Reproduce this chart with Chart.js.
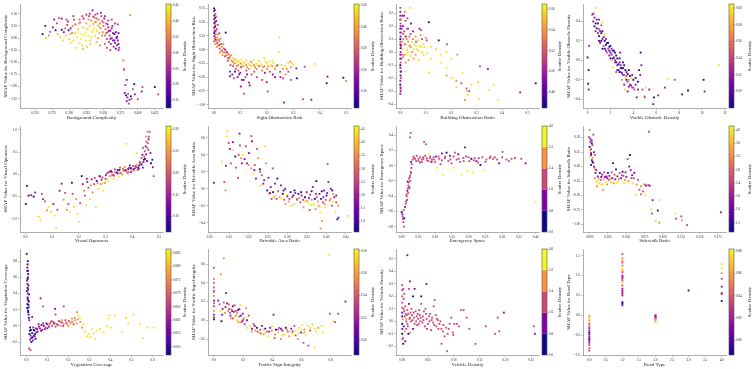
<!DOCTYPE html>
<html>
<head>
<meta charset="utf-8">
<script src="https://cdn.jsdelivr.net/npm/chart.js@4.4.1/dist/chart.umd.min.js"></script>
<style>
  html, body { margin: 0; padding: 0; background: #fff; }
  #grid { position: relative; width: 753px; height: 369px; overflow: hidden; }
  #grid canvas { position: absolute; }
</style>
</head>
<body>
<div id="grid"></div>
<script>
// Data: each point is [feature value, SHAP value, density level 0..1]
const complexityPts = [
  [0.261,0.08,0.05],[0.266,0.00,0.95],[0.270,0.05,0.7],[0.272,0.13,0.6],[0.276,0.22,0.3],[0.280,0.16,0.05],[0.283,0.08,0.8],
  [0.285,0.41,0.5],[0.289,0.40,0.3],[0.289,0.17,0.05],[0.292,0.12,0.3],[0.295,0.05,0.85],[0.297,0.27,0.45],[0.299,0.16,0.05],
  [0.302,0.20,0.3],[0.300,-0.02,0.9],[0.304,0.10,0.6],[0.306,-0.05,0.95],[0.308,0.10,0.9],[0.309,0.28,0.5],[0.311,0.02,1.0],
  [0.313,0.18,0.85],[0.315,-0.10,0.95],[0.316,0.32,0.6],[0.318,0.08,1.0],[0.319,-0.15,0.9],[0.320,0.22,0.9],[0.321,0.40,0.4],
  [0.323,0.12,1.0],[0.324,-0.05,0.95],[0.325,0.30,0.8],[0.327,0.18,0.95],[0.328,0.05,1.0],[0.329,0.45,0.5],[0.330,0.25,0.9],
  [0.331,-0.12,0.9],[0.332,0.36,0.7],[0.333,0.12,1.0],[0.334,0.57,0.3],[0.335,0.28,0.85],[0.336,0.20,0.95],[0.337,0.42,0.6],
  [0.338,0.05,0.9],[0.339,0.33,0.75],[0.340,0.15,0.9],[0.341,0.50,0.45],[0.342,0.26,0.8],[0.343,0.38,0.65],[0.344,0.10,0.8],
  [0.345,0.30,0.7],[0.346,0.20,0.75],[0.347,0.45,0.5],[0.348,0.35,0.6],[0.349,0.12,0.7],[0.350,0.25,0.6],[0.351,0.40,0.4],
  [0.352,0.05,0.6],[0.353,0.18,0.55],[0.354,0.30,0.45],[0.355,-0.02,0.5],[0.356,0.12,0.5],[0.357,0.22,0.4],[0.358,-0.08,0.45],
  [0.359,0.05,0.4],[0.360,0.15,0.3],[0.361,-0.12,0.4],[0.362,0.00,0.3],[0.363,0.25,0.35],[0.364,-0.05,0.25],[0.365,-0.18,0.35],
  [0.366,0.08,0.2],[0.367,-0.10,0.3],[0.368,-0.22,0.25],[0.369,0.00,0.15],[0.370,-0.15,0.2],[0.371,-0.05,0.3],[0.372,-0.25,0.35],
  [0.372,0.10,0.2],[0.362,0.38,0.5],[0.371,0.28,0.45],[0.389,0.47,0.7],[0.379,-0.46,0.7],[0.380,-0.63,0.65],[0.380,-0.66,0.6],
  [0.384,-0.86,0.3],[0.382,-0.97,0.35],[0.381,-1.13,0.3],[0.383,-1.18,0.05],[0.385,-1.22,0.35],[0.386,-1.15,0.5],[0.388,-1.27,0.3],
  [0.390,-1.20,0.05],[0.391,-1.25,0.5],[0.384,-1.30,0.3],[0.387,-1.35,0.5],[0.395,-0.95,0.05],[0.396,-1.16,0.3],[0.400,-1.26,0.5],
  [0.407,-1.01,0.5],[0.406,-1.10,0.3],[0.425,-1.01,0.05],[0.430,-1.16,0.5],[0.393,-1.05,0.55],
  [0.287,0.02,0.9],[0.291,-0.05,0.95],[0.294,0.20,0.6],[0.298,0.34,0.4],[0.301,0.08,0.9],[0.303,-0.10,0.95],[0.305,0.25,0.7],
  [0.307,0.38,0.45],[0.310,-0.20,0.95],[0.312,0.12,1.0],[0.314,0.30,0.75],[0.317,-0.02,1.0],[0.319,0.45,0.45],[0.322,0.05,1.0],
  [0.324,0.20,1.0],[0.326,-0.18,0.9],[0.328,0.38,0.7],[0.330,0.50,0.4],[0.332,0.02,1.0],[0.334,0.15,1.0],[0.336,0.32,0.85],
  [0.338,0.48,0.5],[0.340,0.40,0.6],[0.342,0.00,0.85],[0.344,0.22,0.8],[0.346,0.52,0.35],[0.348,0.05,0.7],[0.350,0.32,0.55],
  [0.352,0.45,0.35],[0.354,0.10,0.5],[0.356,0.28,0.4],[0.358,0.15,0.35],[0.360,-0.02,0.35],[0.362,0.20,0.3],[0.364,0.10,0.2],
  [0.366,-0.05,0.25],[0.368,0.12,0.15],[0.370,0.03,0.2],[0.372,-0.12,0.3],[0.373,-0.20,0.4],[0.367,0.30,0.4],[0.357,0.36,0.45],
  [0.320,-0.22,0.85],[0.315,0.38,0.6],[0.330,-0.05,0.95],[0.340,-0.08,0.85],[0.335,0.44,0.5],[0.325,0.48,0.4],[0.345,-0.15,0.7],
  [0.352,-0.12,0.6],[0.355,-0.20,0.5],[0.360,-0.25,0.45],[0.306,0.45,0.4],[0.296,0.38,0.5],[0.282,0.30,0.5],[0.278,0.38,0.3],
  [0.265,0.25,0.2]
];
const sightPts = [
  [0.000,0.75,0.05],[0.000,0.70,0.3],[0.001,0.62,0.05],[0.000,0.55,0.3],[0.001,0.48,0.05],[0.000,0.40,0.3],[0.002,0.35,0.5],
  [0.000,0.30,0.05],[0.001,0.25,0.3],[0.002,0.20,0.72],[0.000,0.15,0.5],[0.005,0.65,0.5],[0.005,0.45,0.72],[0.006,0.28,0.5],
  [0.005,0.10,0.72],[0.006,0.18,0.3],[0.010,0.60,0.72],[0.010,0.38,0.5],[0.011,0.22,0.72],[0.010,0.05,0.72],[0.012,0.12,0.5],
  [0.020,0.30,0.5],[0.020,0.15,0.72],[0.021,0.02,0.5],[0.022,-0.05,0.72],[0.019,0.08,0.3],[0.030,0.05,0.72],[0.030,-0.02,0.5],
  [0.032,-0.10,0.72],[0.044,0.31,0.05],[0.040,-0.05,0.72],[0.041,-0.12,0.5],[0.042,0.00,0.3],[0.050,-0.10,0.85],[0.051,-0.15,0.72],
  [0.052,-0.20,0.5],[0.049,-0.05,0.3],[0.060,-0.12,0.72],[0.061,-0.18,0.95],[0.062,-0.28,0.5],[0.060,-0.40,0.3],[0.070,-0.15,0.95],
  [0.071,-0.22,0.72],[0.072,-0.30,0.5],[0.069,-0.45,0.3],[0.080,-0.18,0.72],[0.081,-0.25,0.95],[0.082,-0.35,0.5],[0.079,-0.40,0.05],
  [0.090,-0.20,0.95],[0.091,-0.28,0.72],[0.092,-0.38,0.5],[0.089,-0.50,0.3],[0.100,-0.18,0.95],[0.101,-0.25,0.72],[0.102,-0.32,0.5],
  [0.099,-0.42,0.3],[0.110,-0.22,0.95],[0.111,-0.30,0.72],[0.112,-0.55,0.3],[0.120,-0.20,0.95],[0.121,-0.28,0.72],[0.122,-0.38,0.5],
  [0.119,-0.50,0.5],[0.130,-0.25,0.95],[0.131,-0.35,0.72],[0.132,-0.60,0.3],[0.140,-0.22,0.72],[0.141,-0.30,0.95],[0.142,-0.45,0.5],
  [0.150,-0.18,0.95],[0.151,-0.28,0.72],[0.152,-0.40,0.5],[0.160,-0.25,0.95],[0.161,-0.35,0.72],[0.162,-0.50,0.5],[0.170,-0.20,0.95],
  [0.171,-0.30,0.5],[0.180,-0.28,0.95],[0.181,-0.38,0.72],[0.182,-0.55,0.5],[0.190,-0.15,0.95],[0.191,-0.30,0.72],[0.192,-0.42,0.3],
  [0.200,-0.25,0.95],[0.201,-0.35,0.72],[0.210,-0.22,0.95],[0.211,-0.40,0.5],[0.220,-0.30,0.72],[0.221,-0.20,0.95],[0.222,-0.45,0.3],
  [0.230,-0.35,0.72],[0.231,-0.50,0.3],[0.240,-0.28,0.5],[0.250,-0.40,0.5],[0.251,-0.50,0.3],[0.260,-0.35,0.72],[0.261,-0.52,0.5],
  [0.270,-0.30,0.95],[0.271,-0.45,0.72],[0.280,-0.25,0.95],[0.281,-0.40,0.5],[0.290,-0.32,0.72],[0.291,-0.55,0.5],[0.300,-0.28,0.95],
  [0.247,0.22,0.95],[0.244,-0.04,0.95],[0.288,-0.22,0.72],[0.311,-0.34,0.3],[0.313,-0.52,0.05],[0.343,-0.31,0.5],[0.381,-0.26,0.95],
  [0.429,-0.49,0.3],[0.426,-0.61,0.05],[0.489,-0.51,0.05],[0.499,-0.57,0.72],[0.336,-0.90,0.5],[0.368,-0.91,0.3],[0.264,-0.96,0.3],
  [0.199,-0.59,0.3],[0.203,-0.76,0.5],[0.135,-0.65,0.3],[0.114,-0.80,0.5],[0.101,-0.67,0.3],
  [0.003,0.72,0.3],[0.004,0.58,0.05],[0.003,0.50,0.3],[0.004,0.42,0.05],[0.003,0.33,0.3],[0.004,0.22,0.5],[0.008,0.52,0.3],
  [0.008,0.35,0.5],[0.009,0.15,0.72],[0.014,0.45,0.5],[0.015,0.28,0.72],[0.016,0.08,0.72],[0.017,0.18,0.5],[0.025,0.20,0.72],
  [0.026,0.10,0.5],[0.027,-0.02,0.72],[0.035,0.10,0.72],[0.036,-0.05,0.72],[0.037,0.02,0.5],[0.045,-0.02,0.72],[0.046,-0.10,0.72],
  [0.055,-0.08,0.72],[0.056,-0.15,0.5],[0.065,-0.10,0.72],[0.066,-0.20,0.72],[0.075,-0.18,0.95],[0.076,-0.25,0.72],[0.085,-0.22,0.95],
  [0.086,-0.30,0.72],[0.095,-0.22,0.95],[0.105,-0.28,0.95],[0.115,-0.25,0.95],[0.125,-0.32,0.72],[0.135,-0.28,0.95],[0.145,-0.25,0.95],
  [0.155,-0.32,0.72],[0.165,-0.28,0.95],[0.175,-0.25,0.95],[0.185,-0.32,0.72],[0.195,-0.22,0.95],[0.205,-0.30,0.72],[0.215,-0.28,0.95],
  [0.225,-0.25,0.95],[0.235,-0.30,0.72],[0.255,-0.28,0.95],[0.275,-0.35,0.72],[0.295,-0.25,0.95],[0.060,-0.48,0.3],[0.075,-0.52,0.5],
  [0.095,-0.45,0.3],[0.105,-0.55,0.3],[0.125,-0.45,0.3]
];
const buildingPts = [
  [0.000,0.34,0.5],[0.000,0.28,0.3],[0.001,0.22,0.5],[0.000,0.18,0.05],[0.001,0.12,0.3],[0.000,0.08,0.5],[0.001,0.03,0.05],
  [0.000,-0.02,0.3],[0.001,-0.08,0.5],[0.000,-0.12,0.3],[0.001,-0.18,0.05],[0.000,-0.22,0.3],[0.001,-0.27,0.5],[0.000,-0.32,0.3],
  [0.000,0.25,0.05],[0.000,-0.05,0.05],[0.000,0.15,0.3],[0.003,0.25,0.72],[0.004,0.15,0.5],[0.003,0.05,0.72],[0.004,-0.05,0.5],
  [0.003,-0.15,0.3],[0.010,0.20,0.3],[0.011,0.10,0.72],[0.010,0.02,0.95],[0.011,-0.04,0.72],[0.012,0.14,0.5],[0.020,0.24,0.5],
  [0.021,0.12,0.3],[0.020,0.06,0.72],[0.022,-0.02,0.95],[0.021,-0.08,0.72],[0.020,-0.15,0.95],[0.039,0.34,0.95],[0.030,0.18,0.3],
  [0.031,0.08,0.72],[0.030,0.00,0.95],[0.032,-0.06,0.72],[0.040,0.14,0.5],[0.041,0.04,0.72],[0.040,-0.03,0.95],[0.042,0.22,0.3],
  [0.050,0.10,0.72],[0.051,0.02,0.95],[0.050,0.16,0.3],[0.052,-0.05,0.72],[0.060,0.12,0.72],[0.061,0.05,0.95],[0.060,-0.02,0.72],
  [0.062,0.08,0.5],[0.070,0.09,0.95],[0.071,0.01,0.95],[0.072,-0.06,0.95],[0.080,0.13,0.72],[0.081,0.04,0.95],[0.082,0.17,0.5],
  [0.075,0.18,0.3],[0.085,0.10,0.5],[0.104,0.09,0.5],[0.112,0.23,0.05],[0.090,0.06,0.95],[0.091,-0.02,0.95],[0.100,0.11,0.72],
  [0.112,-0.16,0.95],[0.151,0.09,0.05],[0.120,0.04,0.95],[0.121,-0.05,0.95],[0.183,0.06,0.5],[0.140,0.02,0.95],[0.160,-0.02,0.95],
  [0.161,-0.08,0.95],[0.180,0.00,0.95],[0.181,-0.12,0.95],[0.182,-0.18,0.72],[0.200,-0.05,0.95],[0.201,-0.20,0.95],[0.224,-0.02,0.72],
  [0.220,-0.22,0.72],[0.221,-0.27,0.95],[0.244,-0.16,0.95],[0.240,-0.24,0.5],[0.260,-0.28,0.5],[0.262,-0.30,0.95],[0.254,-0.37,0.72],
  [0.280,-0.25,0.95],[0.313,-0.11,0.5],[0.305,-0.23,0.95],[0.310,-0.36,0.95],[0.344,-0.13,0.3],[0.347,-0.29,0.95],[0.367,-0.25,0.95],
  [0.383,-0.37,0.95],[0.471,-0.31,0.3],[0.532,-0.24,0.05],[0.265,-0.33,0.95],[0.270,-0.30,0.5],
  [0.000,0.31,0.3],[0.001,0.20,0.3],[0.000,0.10,0.05],[0.001,0.00,0.3],[0.000,-0.10,0.05],[0.001,-0.15,0.3],[0.000,-0.25,0.05],
  [0.001,-0.30,0.3],[0.002,0.05,0.3],[0.002,-0.20,0.5],[0.000,0.06,0.3],[0.001,-0.28,0.3],[0.006,0.18,0.5],[0.007,0.08,0.72],
  [0.006,-0.02,0.5],[0.008,0.28,0.3],[0.015,0.16,0.5],[0.016,0.06,0.72],[0.015,-0.02,0.72],[0.025,0.10,0.72],[0.026,0.02,0.95],
  [0.027,0.18,0.5],[0.035,0.12,0.72],[0.036,0.05,0.72],[0.045,0.08,0.95],[0.046,0.00,0.72],[0.055,0.06,0.95],[0.065,0.02,0.95],
  [0.075,0.05,0.95],[0.085,0.00,0.95],[0.095,0.04,0.95],[0.105,-0.01,0.95],[0.015,0.28,0.3],[0.028,0.26,0.5],[0.018,0.31,0.72]
];
const obstaclePts = [
  [0.75,0.54,0.95],[0.4,0.47,0.5],[0.5,0.40,0.3],[0.6,0.35,0.05],[0.7,0.30,0.3],[0.8,0.42,0.3],[1.0,0.25,0.05],[1.0,0.32,0.5],
  [1.1,0.18,0.3],[1.2,0.28,0.05],[1.27,0.39,0.95],[1.3,0.22,0.3],[1.4,0.15,0.5],[1.5,0.20,0.05],[1.5,0.27,0.95],[1.6,0.10,0.3],
  [1.7,0.18,0.05],[1.8,0.12,0.5],[1.9,0.05,0.3],[2.0,0.15,0.05],[2.0,0.08,0.3],[2.1,0.00,0.95],[2.2,0.10,0.05],[2.2,-0.07,0.95],
  [2.3,0.03,0.3],[2.4,-0.02,0.5],[2.5,0.05,0.05],[2.6,-0.05,0.3],[2.7,-0.10,0.05],[2.8,-0.02,0.3],[2.84,0.08,0.3],[2.9,-0.12,0.5],
  [3.0,-0.08,0.05],[3.1,-0.15,0.3],[3.2,-0.05,0.05],[3.27,-0.30,0.95],[3.3,-0.18,0.95],[3.4,-0.12,0.3],[3.5,-0.22,0.5],[3.6,-0.10,0.05],
  [3.7,-0.25,0.3],[3.8,-0.18,0.95],[3.9,-0.28,0.5],[4.0,-0.20,0.05],[4.2,-0.25,0.3],[4.64,0.08,0.05],[4.6,-0.15,0.3],[4.8,-0.30,0.5],
  [4.96,-0.37,0.72],[5.0,-0.38,0.5],[5.1,-0.28,0.95],[5.39,-0.30,0.3],[5.8,-0.38,0.05],[6.17,-0.36,0.3],[5.74,-0.45,0.3],
  [6.99,-0.19,0.95],[7.62,-0.20,0.5],[6.75,-0.28,0.3],[8.26,-0.35,0.05],[8.78,-0.31,0.05],[10.14,-0.20,0.05],[10.23,-0.32,0.3],
  [11.48,-0.05,0.95],[0.0,0.03,0.05],[0.09,-0.10,0.05],[0.05,-0.24,0.05],[0.1,-0.30,0.3],[0.14,0.15,0.3],[0.9,0.38,0.05],
  [1.1,0.30,0.3],[1.3,0.12,0.05],[1.6,0.22,0.3],[1.9,0.14,0.05],[2.1,0.06,0.3],[2.4,0.08,0.05],[2.6,0.02,0.05],[2.9,-0.05,0.3],
  [3.1,-0.02,0.05],[3.4,-0.20,0.05],[3.6,-0.27,0.3],[3.9,-0.15,0.3],[4.1,-0.30,0.5],[4.4,-0.22,0.05],[4.7,-0.05,0.3],[2.5,-0.12,0.5],
  [3.0,-0.20,0.72],[3.5,-0.32,0.3],[4.3,-0.38,0.3],
  [0.6,0.44,0.3],[0.7,0.38,0.05],[0.8,0.33,0.05],[0.9,0.28,0.3],[1.0,0.20,0.05],[1.2,0.20,0.05],[1.3,0.30,0.05],[1.4,0.24,0.3],
  [1.5,0.12,0.05],[1.6,0.16,0.05],[1.7,0.08,0.5],[1.8,0.18,0.05],[1.9,0.10,0.05],[2.0,0.02,0.05],[2.1,0.12,0.3],[2.2,0.02,0.05],
  [2.3,0.10,0.05],[2.4,0.00,0.3],[2.5,-0.02,0.05],[2.6,-0.10,0.3],[2.7,-0.04,0.05],[2.8,-0.12,0.05],[2.9,-0.08,0.05],[3.0,-0.13,0.3],
  [3.1,-0.08,0.05],[3.2,-0.15,0.5],[3.3,-0.10,0.05],[3.4,-0.16,0.5],[3.5,-0.14,0.05],[3.6,-0.20,0.72],[3.7,-0.16,0.05],[3.8,-0.26,0.3],
  [4.0,-0.28,0.5],[4.2,-0.18,0.05],[4.4,-0.30,0.3],[4.5,-0.10,0.05],[1.0,0.42,0.3],[0.5,0.48,0.3],[1.2,0.36,0.5],[2.8,0.02,0.05],
  [3.2,-0.25,0.3]
];
const opennessPts = [
  [0.006,-0.26,0.05],[0.012,-0.48,0.05],[0.022,-0.47,0.3],[0.031,-0.50,0.05],[0.002,-0.67,0.05],[0.037,-0.41,0.3],[0.062,-0.44,0.5],
  [0.066,-0.56,0.3],[0.074,-0.61,0.5],[0.050,-0.96,0.95],[0.056,-1.03,0.95],[0.081,-0.81,0.72],[0.087,-0.74,0.95],[0.096,-0.85,0.95],
  [0.105,-0.67,0.3],[0.112,-0.93,0.95],[0.115,-1.21,0.95],[0.120,-0.80,0.5],[0.128,-0.37,0.3],[0.136,-0.21,0.3],[0.143,-0.57,0.72],
  [0.149,-0.42,0.5],[0.155,-0.80,0.72],[0.161,-0.67,0.5],[0.167,-0.84,0.95],[0.174,-0.19,0.05],[0.177,-0.44,0.5],[0.182,-0.73,0.95],
  [0.190,-0.56,0.72],[0.195,-0.89,0.95],[0.202,-1.07,0.95],[0.205,-0.65,0.5],[0.211,-0.04,0.05],[0.215,-0.22,0.3],[0.220,-0.37,0.72],
  [0.223,-0.48,0.5],[0.227,-0.70,0.95],[0.232,-0.17,0.3],[0.236,-0.30,0.5],[0.242,-0.56,0.95],[0.248,-0.11,0.3],[0.252,-0.41,0.72],
  [0.257,-0.22,0.5],[0.264,-0.74,0.95],[0.267,-0.15,0.05],[0.273,-0.33,0.95],[0.277,-0.04,0.3],[0.282,-0.22,0.72],[0.289,-0.07,0.5],
  [0.292,-0.37,0.95],[0.298,-0.19,0.72],[0.301,-0.02,0.3],[0.306,-0.11,0.95],[0.310,0.04,0.5],[0.316,-0.04,0.72],[0.323,0.05,0.3],
  [0.329,0.00,0.72],[0.335,0.11,0.5],[0.341,0.04,0.05],[0.347,0.07,0.72],[0.354,0.15,0.5],[0.360,0.05,0.95],[0.366,0.11,0.3],
  [0.372,0.17,0.72],[0.378,0.07,0.5],[0.385,0.12,0.05],[0.391,0.20,0.3],[0.397,0.10,0.72],[0.403,0.19,0.5],[0.409,0.13,0.3],
  [0.416,0.22,0.72],[0.422,0.15,0.05],[0.428,0.27,0.3],[0.434,0.37,0.5],[0.438,0.44,0.3],[0.443,0.33,0.05],[0.447,0.52,0.5],
  [0.450,0.63,0.3],[0.453,0.74,0.5],[0.451,0.85,0.72],[0.457,0.96,0.72],[0.465,0.96,0.5],[0.461,0.79,0.3],[0.468,0.48,0.3],
  [0.475,0.33,0.05],[0.480,-0.04,0.5],[0.477,0.16,0.3],[0.416,0.48,0.95],[0.378,0.69,0.95],[0.320,0.08,0.3],[0.332,-0.03,0.5],
  [0.345,0.02,0.3],[0.352,0.10,0.05],[0.362,0.00,0.72],[0.370,0.08,0.5],[0.382,0.02,0.72],[0.388,0.15,0.5],[0.395,0.05,0.3],
  [0.405,0.08,0.72],[0.412,0.18,0.3],[0.420,0.10,0.5],[0.426,0.20,0.05],[0.432,0.25,0.5],[0.440,0.15,0.3],[0.445,0.40,0.5],
  [0.455,0.30,0.3],[0.460,0.55,0.5],[0.300,-0.10,0.5],[0.285,-0.12,0.3],[0.270,-0.20,0.72],[0.260,-0.08,0.5],[0.245,-0.25,0.72],
  [0.230,-0.10,0.3],
  [0.305,0.02,0.5],[0.315,0.06,0.3],[0.325,-0.02,0.5],[0.335,0.05,0.72],[0.345,0.10,0.3],[0.355,0.03,0.5],[0.365,0.12,0.72],
  [0.375,0.10,0.3],[0.385,0.05,0.5],[0.395,0.14,0.05],[0.405,0.12,0.3],[0.415,0.16,0.5],[0.425,0.13,0.3],[0.435,0.22,0.05],
  [0.442,0.28,0.3],[0.448,0.35,0.05],[0.452,0.45,0.3],[0.456,0.60,0.5],[0.458,0.70,0.5],[0.462,0.85,0.5],[0.440,0.60,0.5],
  [0.470,0.25,0.05],[0.350,-0.05,0.95],[0.330,-0.10,0.95],[0.310,-0.15,0.95],[0.290,-0.20,0.95],[0.280,-0.05,0.3]
];
const drivablePts = [
  [0.111,0.07,0.3],[0.138,0.08,0.5],[0.141,-0.02,0.72],[0.132,0.32,0.95],[0.142,0.27,0.3],[0.146,0.68,0.95],[0.144,0.62,0.95],
  [0.149,0.54,0.5],[0.152,0.47,0.3],[0.161,0.46,0.95],[0.166,0.38,0.05],[0.168,0.25,0.5],[0.173,0.13,0.5],[0.177,0.65,0.3],
  [0.178,0.51,0.5],[0.181,0.36,0.72],[0.183,0.30,0.3],[0.185,0.40,0.95],[0.193,0.50,0.5],[0.196,0.30,0.3],[0.201,0.42,0.3],
  [0.207,0.62,0.5],[0.209,0.56,0.3],[0.207,0.24,0.72],[0.212,0.18,0.95],[0.216,0.28,0.5],[0.219,0.12,0.3],[0.222,0.47,0.5],
  [0.225,0.36,0.72],[0.229,0.23,0.05],[0.231,0.04,0.95],[0.234,0.16,0.5],[0.238,0.06,0.3],[0.242,0.50,0.95],[0.245,0.30,0.72],
  [0.248,-0.02,0.05],[0.251,0.13,0.3],[0.253,-0.06,0.72],[0.257,0.02,0.3],[0.259,-0.12,0.5],[0.262,0.24,0.5],[0.263,-0.04,0.05],
  [0.268,0.06,0.3],[0.270,-0.08,0.95],[0.274,0.12,0.05],[0.276,-0.03,0.5],[0.280,-0.10,0.72],[0.283,0.04,0.3],[0.288,-0.06,0.05],
  [0.292,-0.13,0.5],[0.294,0.00,0.3],[0.298,-0.07,0.95],[0.303,-0.15,0.72],[0.308,-0.04,0.05],[0.312,-0.10,0.5],[0.316,-0.18,0.95],
  [0.320,-0.05,0.3],[0.324,-0.12,0.72],[0.328,-0.06,0.05],[0.333,-0.16,0.5],[0.336,-0.08,0.3],[0.341,-0.22,0.72],[0.345,-0.10,0.05],
  [0.349,-0.04,0.3],[0.353,-0.16,0.95],[0.358,-0.07,0.5],[0.362,-0.13,0.72],[0.365,0.02,0.3],[0.368,-0.18,0.95],[0.374,0.09,0.05],
  [0.375,-0.10,0.5],[0.380,-0.20,0.72],[0.382,-0.06,0.3],[0.384,-0.28,0.95],[0.386,-0.12,0.05],[0.388,-0.38,0.72],[0.391,-0.16,0.5],
  [0.394,-0.02,0.3],[0.397,-0.22,0.95],[0.400,-0.08,0.05],[0.403,0.29,0.5],[0.405,0.08,0.3],[0.408,-0.14,0.72],[0.411,0.00,0.3],
  [0.414,-0.20,0.5],[0.417,-0.06,0.72],[0.420,-0.10,0.3],[0.423,-0.27,0.95],[0.425,-0.16,0.5],[0.428,-0.36,0.05],[0.431,-0.34,0.3],
  [0.385,-0.47,0.72],[0.455,-0.32,0.95],[0.265,-0.10,0.72],[0.285,-0.12,0.95],[0.300,-0.09,0.3],[0.315,-0.08,0.05],[0.330,-0.11,0.72],
  [0.340,-0.13,0.5],[0.355,-0.11,0.3],[0.370,-0.12,0.05],[0.378,-0.15,0.72],[0.392,-0.10,0.3],[0.398,-0.13,0.5],[0.410,-0.12,0.72],
  [0.418,-0.15,0.95],[0.360,-0.19,0.95],[0.345,-0.15,0.95],[0.325,-0.13,0.5],
  [0.255,-0.05,0.3],[0.272,-0.12,0.5],[0.290,-0.02,0.05],[0.305,-0.12,0.5],[0.318,-0.02,0.05],[0.335,-0.04,0.05],[0.350,-0.14,0.72],
  [0.362,-0.03,0.05],[0.373,-0.06,0.3],[0.388,-0.03,0.05],[0.402,-0.05,0.3],[0.415,-0.02,0.05],[0.425,-0.08,0.3],[0.430,-0.20,0.72],
  [0.395,-0.18,0.72],[0.383,-0.22,0.95],[0.372,-0.24,0.72],[0.357,-0.25,0.5],[0.310,-0.20,0.95],[0.295,-0.18,0.72],[0.240,0.10,0.3],
  [0.230,0.20,0.5],[0.215,0.22,0.3],[0.200,0.28,0.72],[0.190,0.35,0.3],[0.175,0.40,0.5],[0.160,0.55,0.3],[0.155,0.30,0.5]
];
const emergencyPts = [
  [0.000,-0.61,0],[0.002,-0.64,0.25],[0.005,-0.74,0.5],[0.007,-0.80,0.5],[0.003,-0.67,0.5],[0.010,-0.54,0.25],[0.008,-0.69,0],
  [0.013,-0.47,0.5],[0.015,-0.40,0.5],[0.017,-0.33,0.25],[0.020,-0.26,0.5],[0.018,-0.21,0],[0.022,-0.17,0.5],[0.025,-0.13,0.5],
  [0.023,-0.29,0],[0.027,-0.08,0.5],[0.029,-0.03,0.5],[0.030,0.02,0.5],[0.025,0.37,0.5],[0.027,0.43,0.5],[0.028,0.05,0.25],
  [0.033,0.08,0.5],[0.037,0.10,0.5],[0.043,0.06,0.5],[0.050,0.09,0.5],[0.055,0.04,0.5],[0.060,0.08,0.5],[0.064,0.11,0.5],
  [0.067,0.31,0.5],[0.072,0.28,0.5],[0.076,0.07,0.5],[0.082,0.15,1],[0.084,0.10,0.5],[0.089,0.05,0.25],[0.096,0.08,0.5],
  [0.102,0.12,0.25],[0.106,-0.03,1],[0.112,0.09,0.5],[0.116,0.02,0.5],[0.120,0.16,0.25],[0.124,-0.12,1],[0.129,0.10,0.5],
  [0.134,0.17,0],[0.139,0.06,0.5],[0.144,0.13,0.25],[0.149,0.03,0.5],[0.154,-0.03,1],[0.159,0.17,0.5],[0.164,0.08,0.5],
  [0.169,0.15,0.25],[0.174,0.05,0.5],[0.179,-0.12,1],[0.184,0.10,0.5],[0.189,0.24,0.25],[0.192,0.12,0.5],[0.196,-0.07,1],
  [0.202,0.06,0.5],[0.208,0.09,0],[0.213,-0.09,1],[0.218,0.10,0.5],[0.223,0.06,0.25],[0.228,0.04,0.5],[0.235,0.01,0],
  [0.241,0.11,0.5],[0.245,-0.06,1],[0.253,0.08,0.5],[0.263,0.10,0.5],[0.273,0.09,0.5],[0.278,0.11,0.5],[0.291,0.03,0.25],
  [0.301,0.18,0.5],[0.313,0.08,0.5],[0.328,0.09,0.5],[0.338,0.10,0.5],[0.357,0.09,0.5],[0.370,0.03,0.25],[0.400,-0.48,1],
  [0.035,0.12,0.5],[0.040,0.09,0.5],[0.045,0.13,0.5],[0.050,0.06,0.5],[0.055,0.11,0.5],[0.060,0.05,0.5],[0.065,0.09,0.5],
  [0.070,0.13,0.5],[0.075,0.10,0.5],[0.080,0.06,0.5],[0.085,0.12,0.5],[0.090,0.08,0.5],[0.095,0.11,0.5],[0.100,0.05,0.5],
  [0.110,0.12,0.5],[0.120,0.07,0.5],[0.130,0.12,0.5],[0.145,0.08,0.5],[0.155,0.12,0.5],[0.170,0.09,0.5],[0.185,0.06,0.5],
  [0.200,0.11,0.5],[0.215,0.07,0.5],[0.230,0.10,0.5],[0.250,0.05,0.5],[0.265,0.12,0.5],[0.285,0.08,0.5],[0.300,0.11,0.5],
  [0.320,0.06,0.5],[0.012,-0.50,0.5],[0.014,-0.38,0.5],[0.016,-0.45,0.5],[0.018,-0.30,0.5],[0.019,-0.36,0.5],[0.021,-0.22,0.5],
  [0.022,-0.28,0.5],[0.024,-0.15,0.5],[0.026,-0.20,0.5],[0.028,-0.10,0.5],[0.006,-0.58,0.5],[0.004,-0.70,0.5]
];
const sidewalkPts = [
  [0.000,0.63,0.72],[-0.001,0.51,0.5],[0.001,0.43,0.3],[0.000,0.34,0.05],[0.001,0.28,0.72],[0.002,0.23,0.3],[0.000,0.17,0.95],
  [0.004,0.37,0.5],[0.005,0.55,0.5],[0.003,0.11,0.3],[0.005,0.06,0.5],[0.002,0.03,0.05],[0.007,0.20,0.5],[0.007,-0.03,0.72],
  [0.008,-0.11,0.3],[0.007,-0.20,0.72],[0.009,-0.26,0.95],[0.010,-0.34,0.72],[0.011,-0.17,0.3],[0.013,-0.29,0.95],[0.014,-0.11,0.05],
  [0.015,-0.23,0.5],[0.016,-0.31,0.95],[0.017,-0.14,0.3],[0.018,-0.40,0.72],[0.019,-0.22,0.72],[0.020,-0.10,0.5],[0.022,-0.27,0.95],
  [0.023,-0.17,0.3],[0.024,-0.31,0.72],[0.025,-0.11,0.05],[0.026,-0.23,0.5],[0.027,-0.16,0.3],[0.029,-0.26,0.95],[0.030,-0.10,0.5],
  [0.031,-0.20,0.3],[0.032,0.06,0.05],[0.033,-0.29,0.72],[0.034,-0.14,0.5],[0.035,-0.22,0.3],[0.036,-0.05,0.05],[0.038,-0.17,0.3],
  [0.039,-0.26,0.95],[0.041,-0.11,0.5],[0.043,-0.20,0.3],[0.045,-0.09,0.05],[0.046,-0.16,0.5],[0.048,-0.23,0.72],[0.049,-0.10,0.3],
  [0.052,0.13,0.5],[0.054,0.00,0.3],[0.055,0.20,0.05],[0.056,-0.06,0.3],[0.057,-0.20,0.5],[0.059,-0.29,0.95],[0.061,-0.11,0.3],
  [0.064,-0.31,0.72],[0.066,-0.23,0.5],[0.068,-0.40,0.5],[0.064,-0.49,0.95],[0.070,-0.34,0.72],[0.073,-0.43,0.5],[0.075,-0.31,0.5],
  [0.077,-0.33,0.3],[0.080,-0.32,0.5],[0.081,0.60,0.5],[0.082,-0.33,0.3],[0.076,-0.49,0.95],[0.070,-0.48,0.5],[0.084,-0.74,0.95],
  [0.085,-0.81,0.5],[0.093,-0.76,0.05],[0.090,-0.94,0.95],[0.095,-0.97,0.72],[0.086,-0.58,0.3],[0.095,-0.58,0.95],[0.117,-0.81,0.95],
  [0.125,-0.86,0.5],[0.126,-0.93,0.72],[0.118,-0.90,0.5],[0.133,-1.01,0.5],[0.179,-0.79,0.3],[0.003,0.45,0.3],[0.002,0.30,0.5],
  [0.004,0.15,0.72],[0.006,0.25,0.3],[0.012,-0.20,0.72],[0.018,-0.30,0.95],[0.021,-0.18,0.3],[0.028,-0.21,0.72],[0.037,-0.28,0.95],
  [0.044,-0.15,0.5],[0.050,-0.18,0.3],[0.053,-0.25,0.72],[0.060,-0.20,0.5],
  [0.001,0.48,0.3],[0.003,0.40,0.05],[0.002,0.20,0.3],[0.004,0.08,0.05],[0.006,0.00,0.3],[0.009,-0.06,0.3],[0.011,-0.25,0.95],
  [0.016,-0.18,0.05],[0.024,-0.20,0.3],[0.030,-0.28,0.95],[0.040,-0.22,0.72],[0.047,-0.28,0.95],[0.058,-0.15,0.3]
];
const vegetationPts = [
  [0.002,0.89,0.05],[0.005,0.72,0.05],[0.008,0.60,0.05],[0.005,0.52,0.3],[0.003,0.43,0.05],[0.006,0.35,0.05],[0.005,0.27,0.05],
  [0.008,0.19,0.05],[0.011,0.14,0.05],[0.009,0.64,0.05],[0.003,0.56,0.3],[0.006,0.47,0.05],[0.013,0.39,0.05],[0.009,0.31,0.3],
  [0.011,0.23,0.05],[0.007,0.80,0.05],[0.004,0.68,0.3],[0.010,0.50,0.05],[0.007,0.40,0.3],[0.004,0.22,0.05],[0.012,0.30,0.05],
  [0.014,0.07,0.3],[0.017,-0.06,0.05],[0.020,-0.12,0.3],[0.025,-0.15,0.05],[0.028,-0.09,0.05],[0.031,-0.18,0.3],[0.036,-0.12,0.05],
  [0.039,-0.06,0.3],[0.044,-0.16,0.05],[0.049,-0.08,0.3],[0.052,-0.04,0.3],[0.022,-0.05,0.05],[0.033,-0.02,0.3],[0.042,-0.10,0.05],
  [0.018,-0.17,0.3],[0.013,-0.28,0.5],[0.020,-0.30,0.5],[0.028,0.11,0.3],[0.068,0.34,0.3],[0.080,0.24,0.5],[0.060,-0.01,0.3],
  [0.076,-0.05,0.3],[0.083,0.00,0.3],[0.091,-0.02,0.5],[0.099,0.02,0.3],[0.107,-0.01,0.3],[0.115,0.04,0.5],[0.123,0.00,0.5],
  [0.131,0.03,0.3],[0.139,0.14,0.5],[0.139,-0.01,0.5],[0.146,0.02,0.5],[0.154,0.06,0.5],[0.162,0.00,0.72],[0.170,0.04,0.5],
  [0.178,0.02,0.72],[0.186,0.07,0.5],[0.194,0.02,0.72],[0.202,0.06,0.5],[0.209,0.03,0.72],[0.217,0.09,0.72],[0.225,0.02,0.5],
  [0.233,0.07,0.72],[0.241,0.17,0.72],[0.249,0.13,0.95],[0.257,0.05,0.72],[0.265,-0.02,0.72],[0.272,0.02,0.95],[0.280,-0.07,0.95],
  [0.288,-0.13,0.95],[0.296,-0.10,0.95],[0.304,-0.14,0.95],[0.312,-0.04,0.95],[0.320,-0.09,0.95],[0.328,-0.16,0.95],[0.335,-0.06,0.95],
  [0.351,-0.04,0.95],[0.367,-0.08,0.95],[0.383,0.00,0.95],[0.391,0.09,0.95],[0.395,0.13,0.95],[0.402,-0.02,0.95],[0.422,0.13,0.95],
  [0.454,-0.08,0.95],[0.474,0.10,0.95],[0.485,0.03,0.95],[0.509,0.14,0.95],[0.540,0.02,0.95],[0.556,-0.15,0.95],[0.576,-0.02,0.95],
  [0.606,-0.02,0.95],[0.178,0.24,0.5],[0.137,0.21,0.3],[0.065,-0.03,0.3],[0.072,0.01,0.3],[0.088,-0.04,0.3],[0.095,0.03,0.3],
  [0.110,0.02,0.5],[0.128,0.05,0.5],[0.150,0.01,0.5],[0.168,0.07,0.72],[0.190,0.04,0.5],[0.215,0.05,0.72],[0.230,0.10,0.72],
  [0.245,0.08,0.72],
  [0.006,0.76,0.05],[0.008,0.68,0.05],[0.006,0.58,0.05],[0.009,0.45,0.05],[0.007,0.33,0.05],[0.010,0.26,0.05],[0.009,0.17,0.05],
  [0.012,0.10,0.05],[0.015,-0.10,0.05],[0.018,-0.02,0.05],[0.024,-0.20,0.05],[0.030,-0.14,0.05],[0.035,-0.05,0.05],[0.040,-0.13,0.3],
  [0.046,-0.03,0.3],[0.054,-0.07,0.3],[0.058,0.02,0.3],[0.070,-0.06,0.3],[0.080,0.03,0.3],[0.100,-0.03,0.3],[0.120,0.06,0.5],
  [0.135,0.03,0.5],[0.160,0.05,0.5],[0.175,0.00,0.5],[0.200,0.00,0.72],[0.220,0.05,0.72],[0.240,0.03,0.72],[0.255,0.10,0.95]
];
const signPts = [
  [0.000,0.56,0.5],[0.001,0.44,0.72],[0.000,0.35,0.5],[0.001,0.31,0.3],[0.000,0.26,0.72],[0.001,0.21,0.3],[0.000,0.15,0.5],
  [0.001,0.10,0.72],[0.000,0.06,0.3],[0.001,0.01,0.05],[0.048,0.49,0.72],[0.068,0.66,0.72],[0.030,0.21,0.3],[0.039,0.17,0.5],
  [0.045,0.10,0.95],[0.057,0.06,0.3],[0.052,-0.01,0.05],[0.068,0.19,0.5],[0.080,0.14,0.3],[0.084,0.29,0.3],[0.098,0.10,0.72],
  [0.102,0.17,0.5],[0.114,0.05,0.3],[0.120,0.12,0.72],[0.130,0.02,0.5],[0.136,0.09,0.3],[0.143,0.16,0.5],[0.152,0.05,0.72],
  [0.159,0.00,0.95],[0.166,0.11,0.3],[0.175,0.04,0.5],[0.182,0.16,0.95],[0.189,-0.02,0.5],[0.198,0.07,0.3],[0.205,0.02,0.72],
  [0.211,-0.04,0.5],[0.220,0.13,0.72],[0.227,0.00,0.3],[0.239,0.05,0.5],[0.250,-0.06,0.95],[0.261,-0.09,0.3],[0.273,-0.04,0.5],
  [0.284,-0.11,0.72],[0.295,-0.08,0.05],[0.307,-0.13,0.95],[0.318,-0.10,0.5],[0.330,-0.06,0.3],[0.341,-0.15,0.72],[0.352,-0.09,0.05],
  [0.364,-0.12,0.5],[0.375,-0.17,0.95],[0.386,-0.08,0.3],[0.398,-0.11,0.72],[0.409,0.06,0.3],[0.416,-0.19,0.5],[0.425,-0.10,0.05],
  [0.439,-0.13,0.95],[0.448,-0.08,0.5],[0.461,-0.20,0.72],[0.470,-0.11,0.3],[0.484,-0.15,0.95],[0.493,-0.08,0.05],[0.507,-0.12,0.5],
  [0.516,-0.17,0.72],[0.530,-0.09,0.3],[0.539,-0.15,0.95],[0.552,-0.06,0.5],[0.561,-0.11,0.95],[0.575,-0.20,0.72],[0.584,-0.08,0.95],
  [0.598,-0.13,0.3],[0.607,-0.05,0.95],[0.620,-0.10,0.72],[0.630,-0.16,0.95],[0.643,-0.06,0.95],[0.659,-0.11,0.5],[0.675,-0.04,0.95],
  [0.693,-0.09,0.95],[0.716,-0.08,0.72],[0.739,-0.06,0.95],[0.750,-0.13,0.95],[0.648,-0.27,0.5],[0.689,-0.29,0.95],[0.614,-0.24,0.5],
  [0.795,0.07,0.5],[0.818,-0.01,0.95],[0.830,-0.02,0.5],[0.852,0.07,0.5],[0.902,0.20,0.3],[0.789,0.70,0.95],[0.110,0.08,0.5],
  [0.125,0.10,0.3],[0.140,0.04,0.95],[0.160,0.08,0.72],[0.175,0.12,0.3],[0.195,-0.01,0.5],[0.215,0.03,0.95],[0.300,-0.12,0.5],
  [0.350,-0.14,0.95],[0.420,-0.15,0.72],[0.460,-0.09,0.3],[0.520,-0.12,0.95],[0.560,-0.16,0.5],[0.600,-0.10,0.95],
  [0.000,0.40,0.5],[0.000,0.30,0.72],[0.001,0.18,0.5],[0.000,0.03,0.3],[0.060,0.12,0.3],[0.075,0.08,0.72],[0.090,0.18,0.3],
  [0.105,0.12,0.5],[0.118,0.02,0.72],[0.130,0.15,0.3],[0.150,0.10,0.5],[0.170,-0.02,0.72],[0.185,0.05,0.3],[0.200,0.00,0.5],
  [0.230,-0.08,0.95],[0.260,-0.12,0.72],[0.280,-0.06,0.3],[0.320,-0.14,0.5],[0.340,-0.10,0.95],[0.380,-0.12,0.3],[0.400,-0.06,0.95],
  [0.440,-0.10,0.5],[0.470,-0.16,0.95],[0.500,-0.10,0.72],[0.540,-0.12,0.3],[0.580,-0.14,0.95],[0.620,-0.13,0.72],[0.660,-0.08,0.95],
  [0.700,-0.12,0.95]
];
const vehiclePts = [
  [0.010,0.53,0.25],[0.015,0.32,0.25],[0.013,0.26,0.5],[0.024,0.26,0.25],[0.021,0.20,0],[0.037,0.20,0],[0.047,0.30,0.25],
  [0.000,0.29,0.5],[0.000,0.25,0.5],[0.000,0.20,0.5],[0.000,0.15,0.5],[0.000,0.11,0.5],[0.000,0.07,0.25],[0.000,0.04,0],
  [0.001,0.02,0.75],[0.000,-0.02,0],[0.000,-0.06,0.25],[0.000,-0.10,0],[0.001,-0.14,0.25],[0.002,-0.18,0],[0.005,0.04,0.5],
  [0.008,0.02,0.75],[0.008,0.00,0.5],[0.010,-0.02,0.5],[0.012,0.06,0.5],[0.015,0.03,0.5],[0.013,0.14,0.25],[0.018,0.10,0.5],
  [0.020,0.01,0.5],[0.022,0.07,0.5],[0.024,-0.02,0.5],[0.028,0.04,0.5],[0.031,0.02,0.5],[0.033,0.09,0.5],[0.035,0.00,0.5],
  [0.037,0.14,0.5],[0.040,0.04,0.5],[0.044,-0.04,0.5],[0.047,0.02,0.5],[0.050,-0.02,0.5],[0.053,0.00,0.5],[0.056,-0.07,0.5],
  [0.060,-0.01,0.5],[0.063,0.17,0.5],[0.061,0.12,0.5],[0.066,-0.04,0.5],[0.069,0.01,0.5],[0.072,-0.02,0.5],[0.076,-0.06,0.5],
  [0.079,-0.08,0.5],[0.082,-0.12,0.5],[0.085,-0.05,0.5],[0.088,-0.10,0.5],[0.092,-0.02,0.5],[0.076,-0.18,0.5],[0.087,-0.24,0.5],
  [0.099,-0.11,0.5],[0.101,-0.02,0.5],[0.106,-0.02,0.5],[0.114,0.09,0.5],[0.119,0.09,0.5],[0.125,0.03,0.5],[0.142,-0.18,0.5],
  [0.162,-0.04,0.5],[0.180,-0.10,0.5],[0.185,0.03,0.5],[0.188,-0.08,0.5],[0.197,0.07,0.25],[0.255,-0.04,0.5],[0.257,-0.10,0.25],
  [0.098,-0.09,0.5],[0.021,-0.06,0.25],[0.015,-0.09,0.75],[0.002,-0.13,0.75],[0.005,-0.08,0.75],[0.004,0.08,0.5],[0.006,0.12,0.5],
  [0.009,0.05,0.5],[0.011,-0.04,0.5],[0.017,0.00,0.5],[0.019,0.05,0.5],[0.026,0.08,0.5],[0.029,-0.03,0.5],[0.034,0.05,0.5],
  [0.039,-0.01,0.5],[0.042,0.08,0.5],[0.046,0.06,0.5],[0.052,0.04,0.5],[0.058,0.03,0.5],[0.065,0.05,0.5],[0.070,-0.06,0.5],
  [0.003,0.18,0.5],[0.003,-0.04,0.25],
  [0.003,0.10,0.5],[0.007,0.06,0.5],[0.010,0.09,0.5],[0.014,0.02,0.5],[0.016,0.07,0.5],[0.023,0.03,0.5],[0.027,0.00,0.5],
  [0.030,0.06,0.5],[0.032,-0.02,0.5],[0.036,0.03,0.5],[0.041,0.01,0.5],[0.045,0.10,0.5],[0.048,-0.06,0.5],[0.054,0.06,0.5],
  [0.057,0.01,0.5],[0.062,-0.03,0.5],[0.067,0.02,0.5],[0.074,0.00,0.5],[0.080,-0.03,0.5],[0.090,-0.06,0.5],[0.095,0.03,0.5],
  [0.110,-0.04,0.5],[0.130,-0.06,0.5],[0.004,0.22,0.5],[0.002,0.26,0.5],[0.008,-0.06,0.5],[0.012,-0.10,0],[0.006,-0.16,0.25]
];
const roadTypePts = [
  [0,-0.04,0.95],[0,-0.08,0.95],[0,-0.13,0.72],[0,-0.17,0.95],[0,-0.28,0.5],[0,-0.39,0.3],[0,-0.44,0.05],[0,-0.48,0.3],
  [0,-0.53,0.3],[0,-0.58,0.05],[0,-0.64,0.3],[0,-0.69,0.3],[0,-0.75,0.5],[0,-0.83,0.5],[0,-0.89,0.5],[0,-0.02,0.72],
  [0,-0.22,0.5],[0,-0.33,0.3],[0,-0.61,0.3],[1,1.54,0.5],[1,1.44,0.72],[1,1.33,0.5],[1,1.25,0.72],[1,1.17,0.95],[1,1.08,0.5],
  [1,1.00,0.3],[1,0.92,0.5],[1,0.83,0.95],[1,0.75,0.5],[1,0.67,0.3],[1,0.58,0.5],[1,0.50,0.3],[1,0.33,0.05],[1,0.25,0.3],
  [1,1.38,0.72],[1,1.12,0.72],[1,0.96,0.3],[1,0.88,0.5],[1,0.62,0.3],[1,0.55,0.3],[1,0.29,0.05],[2,0.00,0.3],[2,-0.02,0.3],
  [2,-0.04,0.3],[2,-0.06,0.5],[2,-0.08,0.5],[2,-0.10,0.72],[2,-0.13,0.72],[2,-0.17,0.95],[3,0.625,0.05],[4,1.29,0.95],
  [4,1.19,0.95],[4,1.06,0.72],[4,0.92,0.5],[4,0.72,0.3],[4,0.56,0.5],[4,0.54,0.3],[4,0.36,0.05]
];

// Feature names (x titles), in grid order
const featureNames = [
  'Background Complexity', 'Sight Obstruction Risk', 'Building Obstruction Ratio', 'Visible Obstacle Density',
  'Visual Openness', 'Drivable Area Ratio', 'Emergency Space', 'Sidewalk Ratio',
  'Vegetation Coverage', 'Traffic Sign Integrity', 'Vehicle Density', 'Road Type'
];
const colourbarTitle = 'Scatter Density';

// Tick labels per panel
const xTickLabels = [
  ['0.250','0.275','0.300','0.325','0.350','0.375','0.400','0.425'],
  ['0.0','0.1','0.2','0.3','0.4','0.5'],
  ['0.0','0.1','0.2','0.3','0.4','0.5'],
  ['0','2','4','6','8','10','12'],
  ['0.0','0.1','0.2','0.3','0.4','0.5'],
  ['0.10','0.15','0.20','0.25','0.30','0.35','0.40','0.45'],
  ['0.00','0.05','0.10','0.15','0.20','0.25','0.30','0.35','0.40'],
  ['0.000','0.025','0.050','0.075','0.100','0.125','0.150','0.175'],
  ['0.0','0.1','0.2','0.3','0.4','0.5','0.6'],
  ['0.0','0.2','0.4','0.6','0.8'],
  ['0.00','0.05','0.10','0.15','0.20','0.25'],
  ['0.0','0.5','1.0','1.5','2.0','2.5','3.0','3.5','4.0']
];
const yTickLabels = [
  ['0.50','0.25','0.00','-0.25','-0.50','-0.75','-1.00','-1.25'],
  ['0.75','0.50','0.25','0.00','-0.25','-0.50','-0.75','-1.00'],
  ['0.3','0.2','0.1','0.0','-0.1','-0.2','-0.3','-0.4'],
  ['0.4','0.2','0.0','-0.2','-0.4'],
  ['1.0','0.5','0.0','-0.5','-1.0'],
  ['0.6','0.4','0.2','0.0','-0.2','-0.4'],
  ['0.4','0.2','0.0','-0.2','-0.4','-0.6','-0.8'],
  ['0.50','0.25','0.00','-0.25','-0.50','-0.75','-1.00'],
  ['0.8','0.6','0.4','0.2','0.0','-0.2'],
  ['0.6','0.4','0.2','0.0','-0.2'],
  ['0.5','0.4','0.3','0.2','0.1','0.0','-0.1','-0.2'],
  ['1.5','1.0','0.5','0.0','-0.5','-1.0']
];
const cbTickLabels = [
  ['0.15','0.20','0.25','0.30','0.35','0.40','0.45'],
  ['0.10','0.20','0.30','0.40','0.50'],
  ['0.48','0.50','0.52','0.54','0.56'],
  ['0.50','0.52','0.54','0.56','0.58','0.60'],
  ['0.10','0.15','0.20','0.25','0.30'],
  ['1.0','1.5','2.0','2.5','3.0','3.5','4.0','4.5'],
  ['0.0','0.8','1.6','2.4','3.2','4.0'],
  ['1.2','1.6','2.0','2.4','2.8','3.2','3.6','4.0'],
  ['0.050','0.055','0.060','0.065','0.070','0.075','0.080','0.085'],
  ['0.50','0.52','0.54','0.56','0.58'],
  ['0.0','0.8','1.6','2.4','3.2','4.0'],
  ['0.80','0.82','0.84','0.86','0.88']
];

// Axis limits [min, max]
const xLimits = [[0.228,0.437],[-0.023,0.518],[-0.017,0.545],[-0.4,12.1],[-0.02,0.515],[0.096,0.463],
                 [-0.017,0.41],[-0.009,0.186],[-0.03,0.65],[-0.04,0.94],[-0.012,0.265],[-0.19,4.13]];
const yLimits = [[-1.44,0.70],[-1.06,0.83],[-0.43,0.37],[-0.49,0.58],[-1.30,1.09],[-0.51,0.74],
                 [-0.87,0.52],[-1.13,0.70],[-0.36,0.95],[-0.37,0.76],[-0.27,0.58],[-1.0,1.67]];
const cbLimits = [[0.126,0.454],[0.023,0.506],[0.465,0.565],[0.48,0.605],[0.064,0.308],[0.6,4.62],
                  [0,4.0],[0.92,4.12],[0.047,0.0865],[0.487,0.5815],[0,4.0],[0.787,0.882]];
const discretePanels = [6, 10];

const panelPoints = [complexityPts, sightPts, buildingPts, obstaclePts, opennessPts, drivablePts,
                     emergencyPts, sidewalkPts, vegetationPts, signPts, vehiclePts, roadTypePts];

// Layout
const COL_X = [0, 188, 376, 563];
const COL_W = [188, 188, 187, 190];
const ROW_Y = [0, 122, 244];
const ROW_H = [122, 122, 125];
const PAD_TOP = [3, 3, 5];
const PAD_BOTTOM = [1, 0, 1];
const X_AXIS_H = [13, 12, 13];
const Y_AXIS_W = 20;
const PLOT_W = 143;

const FONT = 'Liberation Serif, Times New Roman, serif';
const TEXT = '#222';
const AXIS = '#999';

// Plasma colour map
const PLASMA = ['#0d0887','#4c02a1','#7e03a8','#a92395','#cc4778','#e56b5d','#f89540','#fdc328','#f0f921'];

function hexToRgb(h) {
  return [parseInt(h.slice(1, 3), 16), parseInt(h.slice(3, 5), 16), parseInt(h.slice(5, 7), 16)];
}

function plasma(t) {
  t = Math.max(0, Math.min(1, t));
  const pos = t * (PLASMA.length - 1);
  const i = Math.min(Math.floor(pos), PLASMA.length - 2);
  const f = pos - i;
  const a = hexToRgb(PLASMA[i]), b = hexToRgb(PLASMA[i + 1]);
  const c = a.map((v, k) => Math.round(v + (b[k] - v) * f));
  return `rgb(${c[0]},${c[1]},${c[2]})`;
}

function pointColour(t, discrete) {
  if (discrete) return plasma(Math.round(t * 4) / 4);
  return plasma(t);
}

function fmt(label) {
  return label.replace('-', '\u2212');
}

// Draws the colour bar, its tick marks and its title next to the cb axis
const colourbarPlugin = {
  id: 'colourbar',
  afterDraw(chart, args, opts) {
    const s = chart.scales.cb;
    const ctx = chart.ctx;
    const x0 = s.left + 3, w = 5;
    const top = s.top, bottom = s.bottom;
    ctx.save();
    if (opts.discrete) {
      const edges = opts.ticks.map(Number);
      for (let i = 0; i < edges.length - 1; i++) {
        const y1 = s.getPixelForValue(edges[i]);
        const y2 = s.getPixelForValue(edges[i + 1]);
        ctx.fillStyle = plasma(i / (edges.length - 2));
        ctx.fillRect(x0, y2, w, y1 - y2);
      }
    } else {
      const grad = ctx.createLinearGradient(0, bottom, 0, top);
      PLASMA.forEach((c, i) => grad.addColorStop(i / (PLASMA.length - 1), c));
      ctx.fillStyle = grad;
      ctx.fillRect(x0, top, w, bottom - top);
    }
    ctx.strokeStyle = '#555';
    ctx.lineWidth = 0.6;
    ctx.strokeRect(x0, top, w, bottom - top);

    // tick marks on the right edge of the bar
    ctx.strokeStyle = '#666';
    ctx.lineWidth = 0.5;
    s.ticks.forEach(t => {
      const y = s.getPixelForValue(t.value);
      ctx.beginPath();
      ctx.moveTo(x0 + w, y);
      ctx.lineTo(x0 + w + 1.5, y);
      ctx.stroke();
    });

    // rotated title, read bottom to top
    ctx.translate(s.right - 3, (top + bottom) / 2);
    ctx.rotate(-Math.PI / 2);
    ctx.fillStyle = TEXT;
    ctx.font = '5px ' + FONT;
    ctx.textAlign = 'center';
    ctx.textBaseline = 'middle';
    ctx.fillText(opts.title, 0, 0);
    ctx.restore();
  }
};

function makePanel(i) {
  const col = i % 4, row = Math.floor(i / 4);
  const canvas = document.createElement('canvas');
  canvas.width = COL_W[col];
  canvas.height = ROW_H[row];
  canvas.style.left = COL_X[col] + 'px';
  canvas.style.top = ROW_Y[row] + 'px';
  document.getElementById('grid').appendChild(canvas);

  const pts = panelPoints[i];
  const discrete = discretePanels.includes(i);
  const xt = xTickLabels[i], yt = yTickLabels[i], ct = cbTickLabels[i];
  const tickFont = { family: FONT, size: 3.3 };
  const titleFont = { family: FONT, size: 5 };

  new Chart(canvas, {
    type: 'scatter',
    data: {
      datasets: [{
        data: pts.map(p => ({ x: p[0], y: p[1] })),
        pointBackgroundColor: pts.map(p => pointColour(p[2], discrete)),
        pointBorderWidth: 0,
        pointRadius: 1.3,
        pointStyle: 'rect'
      }]
    },
    options: {
      responsive: false,
      animation: false,
      devicePixelRatio: 1,
      layout: { padding: { top: PAD_TOP[row], bottom: PAD_BOTTOM[row], left: 0, right: 0 } },
      plugins: {
        legend: { display: false },
        tooltip: { enabled: false },
        colourbar: { discrete: discrete, ticks: ct, title: colourbarTitle }
      },
      scales: {
        x: {
          type: 'linear',
          position: 'bottom',
          min: xLimits[i][0],
          max: xLimits[i][1],
          afterBuildTicks: a => { a.ticks = xt.map(v => ({ value: Number(v) })); },
          afterFit: a => { a.height = X_AXIS_H[row]; },
          ticks: { font: tickFont, color: TEXT, padding: 1, maxRotation: 0, autoSkip: false,
                   callback: (v, k) => fmt(xt[k]) },
          grid: { drawOnChartArea: false, tickLength: 2, color: AXIS, lineWidth: 0.6 },
          border: { color: AXIS, width: 0.8 },
          title: { display: true, text: featureNames[i], font: titleFont, color: TEXT, padding: { top: 0, bottom: 0 } }
        },
        y: {
          type: 'linear',
          position: 'left',
          min: yLimits[i][0],
          max: yLimits[i][1],
          afterBuildTicks: a => { a.ticks = yt.map(v => ({ value: Number(v) })); },
          afterFit: a => { a.width = Y_AXIS_W; },
          ticks: { font: tickFont, color: TEXT, padding: 1, autoSkip: false,
                   callback: (v, k) => fmt(yt[k]) },
          grid: { drawOnChartArea: false, tickLength: 2, color: AXIS, lineWidth: 0.6 },
          border: { color: AXIS, width: 0.8 },
          title: { display: true, text: 'SHAP Value for ' + featureNames[i], font: titleFont, color: TEXT, padding: { top: 3, bottom: 0 } }
        },
        cb: {
          type: 'linear',
          position: 'right',
          min: cbLimits[i][0],
          max: cbLimits[i][1],
          afterBuildTicks: a => { a.ticks = ct.map(v => ({ value: Number(v) })); },
          afterFit: a => { a.width = COL_W[col] - Y_AXIS_W - PLOT_W; },
          ticks: { font: tickFont, color: TEXT, padding: 1, autoSkip: false,
                   callback: (v, k) => fmt(ct[k]) },
          grid: { drawOnChartArea: false, tickLength: 9, tickColor: 'rgba(0,0,0,0)' },
          border: { display: false }
        }
      }
    },
    plugins: [colourbarPlugin]
  });
}

for (let i = 0; i < 12; i++) makePanel(i);
</script>
</body>
</html>
